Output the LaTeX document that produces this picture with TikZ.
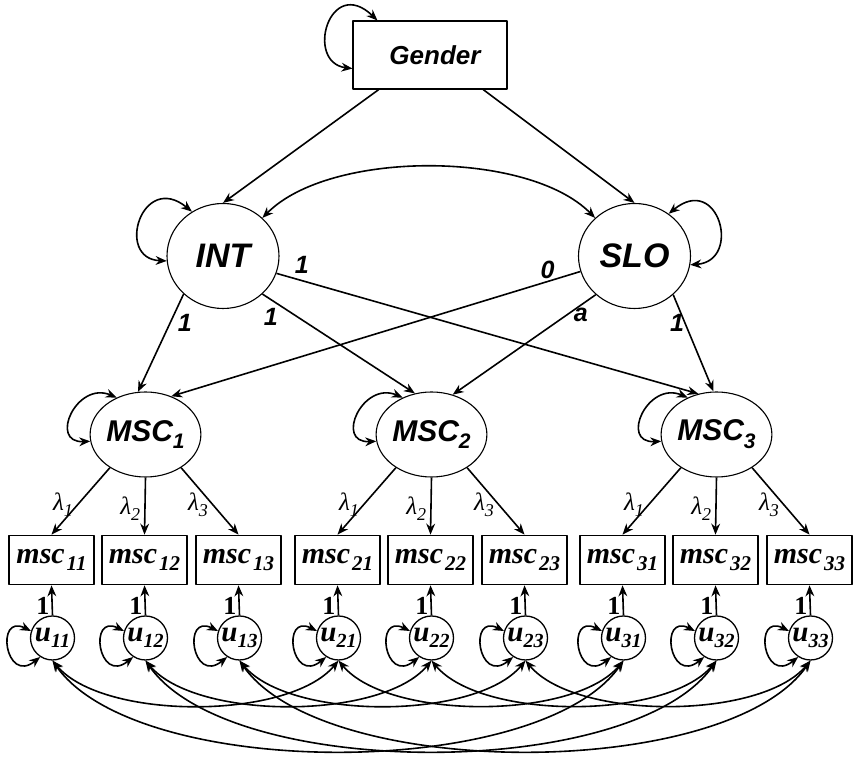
\documentclass[tikz,border=0pt]{standalone}
\usepackage{fontspec}
\setmainfont{Liberation Serif}
\setsansfont{Liberation Sans}
\usetikzlibrary{arrows.meta,shapes.geometric}
\newcommand{\subsc}[2][10.5]{\raisebox{-0.5ex}{\fontsize{#1}{#1}\selectfont #2}}
\begin{document}
\begin{tikzpicture}[x=0.5pt,y=0.5pt,>={Stealth[length=5.5pt,width=4.4pt]}, line join=round,
	regr/.style={->,line width=0.8pt},
	covar/.style={<->,line width=0.8pt},
	latent/.style={ellipse,draw,line width=0.55pt,inner sep=0pt,font=\sffamily\bfseries\itshape},
	obsbox/.style={rectangle,draw,line width=0.85pt,minimum width=42.5pt,minimum height=24.5pt,inner sep=0pt,font=\bfseries\itshape\fontsize{15}{15}\selectfont},
	resid/.style={circle,draw,line width=0.65pt,minimum size=22pt,inner sep=0pt,font=\bfseries\itshape\fontsize{14.5}{14.5}\selectfont},
	lbl/.style={font=\sffamily\bfseries\itshape\fontsize{12.5}{12.5}\selectfont},
	lam/.style={left,inner sep=2pt,font=\itshape\fontsize{12.5}{12.5}\selectfont},
	one/.style={left,inner sep=1pt,font=\bfseries\fontsize{13}{13}\selectfont}]
	\useasboundingbox (0,0) rectangle (853,-758);
	% top part
	\node[draw,line width=0.55pt,minimum width=77pt,minimum height=34pt,font=\sffamily\bfseries\itshape\fontsize{13}{14}\selectfont] (gender) at (430,-55) {\hspace{5pt}Gender};
	\node[latent,minimum width=56pt,minimum height=52.5pt,font=\sffamily\bfseries\itshape\fontsize{17}{17}\selectfont] (int) at (223,-256) {INT};
	\node[latent,minimum width=56pt,minimum height=52.5pt,font=\sffamily\bfseries\itshape\fontsize{17}{17}\selectfont] (slo) at (634.5,-256) {SLO};
	\draw[covar] ([yshift=10.5pt]gender.south west) .. controls +(-24pt,3pt) and +(-24pt,23pt) .. ([xshift=12.5pt]gender.north west);
	\draw[regr] (gender.214) -- (int.north);
	\draw[regr] (gender.-33) -- (slo.north);
	\draw[covar] (int.44) .. controls +(33.5pt,34pt) and +(-33.5pt,34pt) .. (slo.136);
	\draw[covar] (int.185) .. controls +(-26pt,1pt) and +(-25pt,20.5pt) .. (int.125);
	\draw[covar] (slo.-9) .. controls +(26pt,2pt) and +(25pt,20.5pt) .. (slo.51);
	% measurement part
	\foreach \i/\cx in {1/145.5,2/431.5,3/716.5}{
		\node[latent,minimum width=45.5pt,minimum height=42.5pt,font=\sffamily\bfseries\itshape\fontsize{15}{15}\selectfont] (MSC\i) at (\cx,-434.5) {MSC\subsc[10.5]{\i}};
		\draw[covar] (MSC\i.187) .. controls +(-21pt,-1pt) and +(-20pt,8.5pt) .. (MSC\i.128);
		\foreach \j/\dx/\a in {1/-94/223,2/-1/270,3/93/317}{
			\node[obsbox] (obs\i\j) at (\cx+\dx,-560) {msc\kern1pt\subsc{\i\j}};
			\node[resid] (u\i\j) at (\cx+\dx+1,-638) {u\subsc[10]{\i\j}};
			\draw[regr] (MSC\i.\a) -- node[pos=0.55,lam] {λ\subsc[9]{\j}} (obs\i\j.north);
			\draw[regr] (u\i\j.north) -- node[pos=0.3,one] {1} (obs\i\j.south);
			\draw[covar] (u\i\j.237) .. controls +(-17.5pt,-14pt) and +(-18pt,9pt) .. (u\i\j.162);
		}
	}
	\draw[regr] (int.224) -- node[pos=0.29,right,lbl] {1} (MSC1.100);
	\draw[regr] (int.-44) -- node[pos=0.12,below left,inner sep=1pt,lbl] {1} (MSC2.112);
	\draw[regr] (int.-18) -- node[pos=0.06,above,lbl] {1} (MSC3.114);
	\draw[regr] (slo.196) -- node[pos=0.08,above,inner sep=1pt,lbl] {0} (MSC1.56);
	\draw[regr] (slo.225) -- node[pos=0.2,right,inner sep=3pt,lbl] {a} (MSC2.62);
	\draw[regr] (slo.-45) -- node[pos=0.29,left,inner sep=0pt,lbl] {1} (MSC3.94);
	% residual covariances
	\foreach \j in {1,2,3}{
		\draw[covar] (u1\j.south) to[out=-50,in=-130,looseness=0.7] (u2\j.south);
		\draw[covar] (u2\j.south) to[out=-50,in=-130,looseness=0.7] (u3\j.south);
		\draw[covar] (u1\j.south) to[out=-55,in=-125,looseness=0.66] (u3\j.south);
	}
\end{tikzpicture}
\end{document}
